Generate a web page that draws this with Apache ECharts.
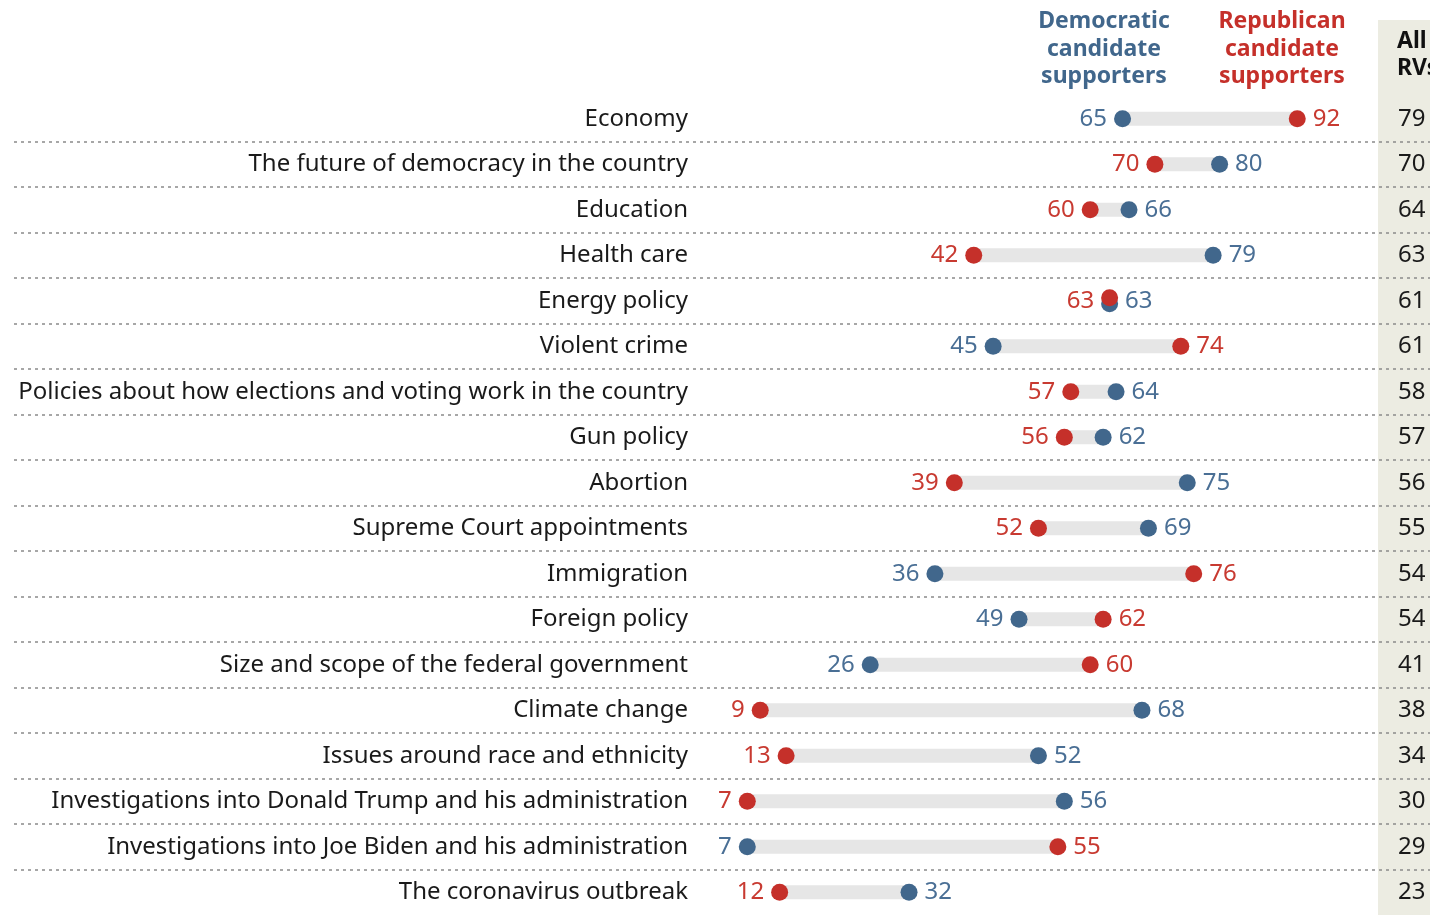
<!DOCTYPE html>
<html><head><meta charset="utf-8">
<script src="https://cdn.jsdelivr.net/npm/echarts@6/dist/echarts.min.js"></script>
<style>html,body{margin:0;padding:0;background:#fff}#c{width:1430px;height:915px}</style>
</head><body><div id="c"></div>
<script>
const categories = ["Economy","The future of democracy in the country","Education","Health care","Energy policy","Violent crime","Policies about how elections and voting work in the country","Gun policy","Abortion","Supreme Court appointments","Immigration","Foreign policy","Size and scope of the federal government","Climate change","Issues around race and ethnicity","Investigations into Donald Trump and his administration","Investigations into Joe Biden and his administration","The coronavirus outbreak"];
const demValues = [65,80,66,79,63,45,64,62,75,69,36,49,26,68,52,56,7,32];
const repValues = [92,70,60,42,63,74,57,56,39,52,76,62,60,9,13,7,55,12];
const allRVs = [79,70,64,63,61,61,58,57,56,55,54,54,41,38,34,30,29,23];
const demTitle = "Democratic\ncandidate\nsupporters";
const repTitle = "Republican\ncandidate\nsupporters";
const allTitle = "All\nRVs";

const BLUE = '#41678C', RED = '#C5302A', BLUE_T = '#4A6F95', RED_T = '#C83A31';
const FONT = '"Noto Sans", sans-serif';
const FS = 24;

const chart = echarts.init(document.getElementById('c'), null, {renderer:'canvas'});

const rangeData = categories.map((c,i)=>[Math.min(demValues[i],repValues[i]), Math.max(demValues[i],repValues[i]), i]);
const demData = demValues.map((v,i)=>{
  const r = repValues[i];
  const item = {value:[v,i], label:{position: v < r ? 'left':'right'}};
  if (v === r) { item.symbolOffset = [0,3]; item.label.offset = [0,-3]; }
  return item;
});
const repData = repValues.map((v,i)=>{
  const d = demValues[i];
  const item = {value:[v,i], label:{position: v <= d ? 'left':'right'}};
  if (v === d) { item.symbolOffset = [0,-3]; item.label.offset = [0,3]; }
  return item;
});

chart.setOption({
  animation:false,
  textStyle:{fontFamily:FONT},
  graphic:[
    {type:'rect', z:-10, shape:{x:1378,y:20,width:60,height:900}, style:{fill:'#ECECE2'}},
    {type:'text', x:1104, y:8, style:{text:demTitle, fill:BLUE, fontSize:23, fontWeight:'bold', fontFamily:FONT, lineHeight:27.5, textAlign:'center', textVerticalAlign:'top'}},
    {type:'text', x:1282, y:8, style:{text:repTitle, fill:RED, fontSize:23, fontWeight:'bold', fontFamily:FONT, lineHeight:27.5, textAlign:'center', textVerticalAlign:'top'}},
    {type:'text', x:1397, y:28, style:{text:allTitle, fill:'#111', fontSize:23, fontWeight:'bold', fontFamily:FONT, lineHeight:27, textAlign:'left', textVerticalAlign:'top'}}
  ],
  grid:[
    {left:14, right:0, top:96, bottom:-1},
    {left:702, right:81, top:96, bottom:-1}
  ],
  xAxis:[
    {gridIndex:0, type:'value', min:0, max:1, show:false},
    {gridIndex:1, type:'value', min:0, max:100, show:false}
  ],
  yAxis:[
    {gridIndex:0, type:'category', data:categories, inverse:true, axisLine:{show:false}, axisTick:{show:false}, axisLabel:{show:false},
     splitLine:{show:true, showMinLine:false, showMaxLine:false, lineStyle:{color:'#8a8a8a', width:1.5, type:[3,4]}}},
    {gridIndex:1, type:'category', data:categories, inverse:true, axisLine:{show:false}, axisTick:{show:false}, splitLine:{show:false},
     axisLabel:{margin:14, fontSize:FS, color:'#1a1a1a', fontFamily:FONT, align:'right', padding:[7,0,0,0]}},
    {gridIndex:1, type:'category', data:categories, inverse:true, position:'right', axisLine:{show:false}, axisTick:{show:false}, splitLine:{show:false},
     axisLabel:{margin:49, fontSize:FS, color:'#1a1a1a', fontFamily:FONT, align:'left', padding:[8,0,0,0], formatter:(v,i)=>String(allRVs[i])}}
  ],
  series:[
    {type:'custom', xAxisIndex:1, yAxisIndex:1, data:rangeData, encode:{x:[0,1], y:2}, z:1,
     renderItem:(params, api)=>{
       const s = api.coord([api.value(0), api.value(2)]);
       const e = api.coord([api.value(1), api.value(2)]);
       const h = 14;
       return {type:'rect', shape:{x:s[0], y:s[1]-h/2, width:e[0]-s[0], height:h}, style:{fill:'#E6E6E6'}};
     }},
    {type:'scatter', name:'Dem', xAxisIndex:1, yAxisIndex:1, data:demData, symbol:'circle', symbolSize:17, z:3,
     itemStyle:{color:BLUE, opacity:1},
     label:{show:true, distance:7, fontSize:FS, color:BLUE_T, fontFamily:FONT, formatter:p=>p.value[0]}},
    {type:'scatter', name:'Rep', xAxisIndex:1, yAxisIndex:1, data:repData, symbol:'circle', symbolSize:17, z:4,
     itemStyle:{color:RED, opacity:1},
     label:{show:true, distance:7, fontSize:FS, color:RED_T, fontFamily:FONT, formatter:p=>p.value[0]}}
  ]
});
</script></body></html>
